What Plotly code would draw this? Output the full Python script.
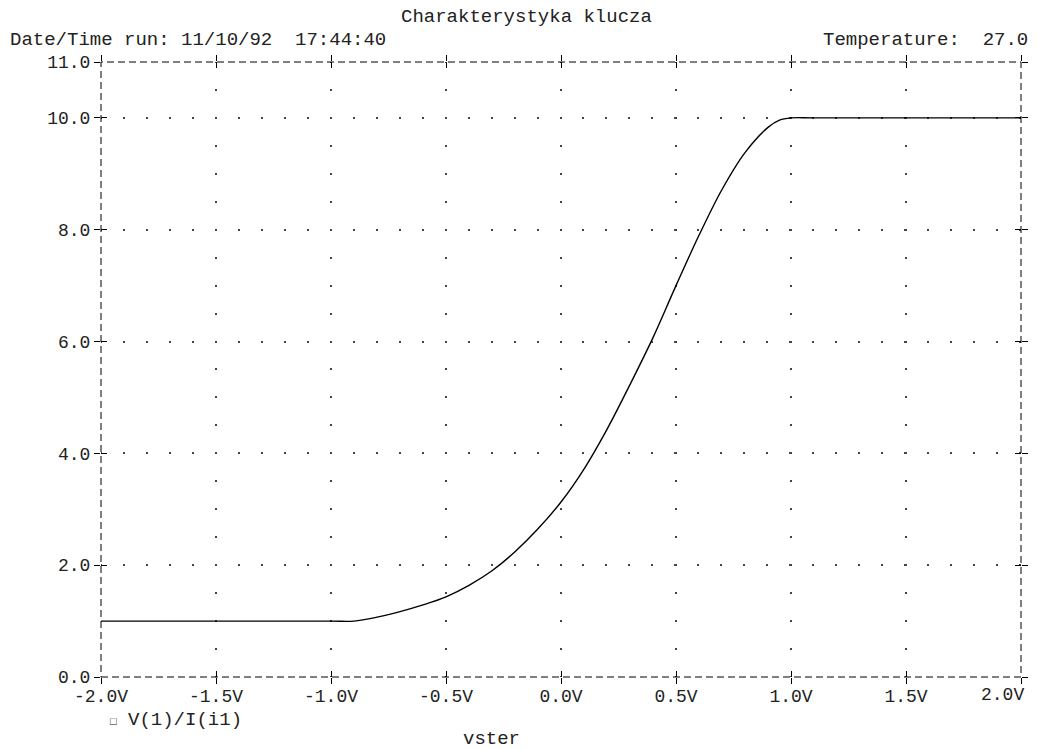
import plotly.graph_objects as go

# ---- data ----
vster = [-2.0, -1.0, -0.9, -0.8, -0.7, -0.6, -0.5, -0.4, -0.3, -0.2, -0.1,
         0.0, 0.1, 0.2, 0.3, 0.4, 0.5, 0.6, 0.7, 0.8, 0.9, 0.95, 1.0, 1.1, 2.0]
ratio = [1.0, 1.0, 1.0, 1.07, 1.17, 1.29, 1.435, 1.64, 1.90, 2.24, 2.65,
         3.13, 3.72, 4.43, 5.23, 6.07, 7.0, 7.90, 8.72, 9.38, 9.83, 9.96, 10.0, 10.0, 10.0]

x_ticks = [-2.0, -1.5, -1.0, -0.5, 0.0, 0.5, 1.0, 1.5, 2.0]
x_ticktext = ["-2.0V", "-1.5V", "-1.0V", "-0.5V", "0.0V", "0.5V", "1.0V", "1.5V", "2.0V"]
x_grid = [-1.5, -1.0, -0.5, 0.0, 0.5, 1.0, 1.5]
y_ticks = [0, 2, 4, 6, 8, 10, 11]
y_ticktext = ["0.0", "2.0", "4.0", "6.0", "8.0", "10.0", "11.0"]
y_grid = [2, 4, 6, 8, 10]

title_text = "Charakterystyka klucza"
date_text = "Date/Time run: 11/10/92  17:44:40"
temp_text = "Temperature:  27.0"
trace_name = "V(1)/I(i1)"
x_title = "vster"

FONT = "Liberation Mono"
TXT = "#222222"
FS = 19
TFS = 18  # tick label size

fig = go.Figure()
fig.add_trace(go.Scatter(
    x=vster, y=ratio, mode="lines", name=trace_name,
    line=dict(color="black", width=1.4, shape="spline", smoothing=1.0),
    showlegend=False, hoverinfo="skip"))

XR = [-2, 2]
YR = [0, 11]
common = dict(showline=False, zeroline=False, fixedrange=True, automargin=False)
tick_style = dict(ticklen=6, tickwidth=1, tickcolor="black", mirror="allticks",
                  showticklabels=False, showgrid=False)

# last x label would overflow the page; it is drawn as an annotation instead
axis_ticktext = x_ticktext[:-1] + [""]

fig.update_layout(
    width=1037, height=749,
    margin=dict(l=101, r=16, t=62, b=72),
    paper_bgcolor="white", plot_bgcolor="white",
    font=dict(family=FONT, size=FS, color=TXT),
    # x labels only
    xaxis=dict(range=XR, tickvals=x_ticks, ticktext=axis_ticktext,
               ticks="", showgrid=False, ticklabelstandoff=6, **common,
               tickfont=dict(family=FONT, size=TFS, color=TXT)),
    yaxis=dict(range=YR, tickvals=y_ticks, ticktext=y_ticktext,
               ticks="outside", ticklen=6, tickwidth=1, tickcolor="black",
               mirror="allticks", showgrid=False, **common,
               tickfont=dict(family=FONT, size=TFS, color=TXT)),
    # outside half of x crosses
    xaxis2=dict(range=XR, overlaying="x", anchor="y", tickvals=x_ticks,
                ticks="outside", **tick_style, **common),
    # inside half of x crosses
    xaxis4=dict(range=XR, overlaying="x", anchor="y", tickvals=x_ticks,
                ticks="inside", **tick_style, **common),
    yaxis2=dict(range=YR, overlaying="y", anchor="x", tickvals=y_ticks,
                ticks="inside", **tick_style, **common),
    xaxis3=dict(range=XR, overlaying="x", anchor="y", tickvals=x_grid,
                ticks="", showticklabels=False, showgrid=True,
                gridcolor="#444444", gridwidth=1.5,
                griddash="1px,25.95px,1px,0px", **common),
    yaxis3=dict(range=YR, overlaying="y", anchor="x", tickvals=y_grid,
                ticks="", showticklabels=False, showgrid=True,
                gridcolor="#444444", gridwidth=1.5,
                griddash="1px,20.975px,1px,0px", **common),
)

# invisible traces to activate the overlay axes
for xa, ya in (("x2", "y2"), ("x3", "y3"), ("x4", "y2")):
    fig.add_trace(go.Scatter(x=[None], y=[None], xaxis=xa, yaxis=ya,
                             showlegend=False, hoverinfo="skip"))

# dashed plot frame
fig.add_shape(type="rect", xref="paper", yref="paper", x0=0, x1=1, y0=0, y1=1,
              line=dict(color="black", width=1, dash="7px,4px"), layer="above")

ann = dict(xref="paper", yref="paper", showarrow=False,
           font=dict(family=FONT, size=FS, color=TXT))
fig.add_annotation(text=title_text, x=0.462, y=1.073, xanchor="center", yanchor="middle", **ann)
fig.add_annotation(text=date_text, x=-0.101, y=1.036, xanchor="left", yanchor="middle", **ann)
fig.add_annotation(text=temp_text, x=1.0098, y=1.036, xanchor="right", yanchor="middle", **ann)
fig.add_annotation(text="<span style='font-size:11px'>\u25a1</span>\u00a0" + trace_name,
                   x=0.0076, y=-0.0695, xanchor="left", yanchor="middle", **ann)
fig.add_annotation(text=x_title, x=0.424, y=-0.100, xanchor="center", yanchor="middle", **ann)
# last x tick label, right-aligned at its tick like the reference
fig.add_annotation(text=x_ticktext[-1], xref="x", yref="paper", x=x_ticks[-1],
                   y=-0.0285, xanchor="right", yanchor="middle", xshift=5,
                   showarrow=False, font=dict(family=FONT, size=TFS, color=TXT))

fig.write_html("out.html",
               config={"displayModeBar": False},
               post_script="document.body.style.margin='0';"
                           "document.body.style.overflow='hidden';")
